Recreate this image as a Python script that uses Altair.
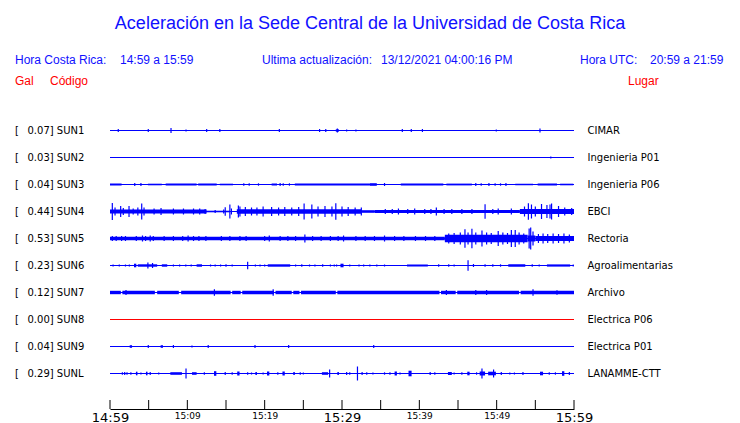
import altair as alt
import pandas as pd

# ---------------- data ----------------
stations = ["SUN1", "SUN2", "SUN3", "SUN4", "SUN5", "SUN6", "SUN7", "SUN8", "SUN9", "SUNL"]
peaks = ["0.07", "0.03", "0.04", "0.44", "0.53", "0.23", "0.12", "0.00", "0.04", "0.29"]
places = ["CIMAR", "Ingenieria P01", "Ingenieria P06", "EBCI", "Rectoria",
          "Agroalimentarias", "Archivo", "Electrica P06", "Electrica P01", "LANAMME-CTT"]
trace_colors = ["#0000ff", "#0000ff", "#0000ff", "#0000ff", "#0000ff",
                "#0000ff", "#0000ff", "#ff0000", "#0000ff", "#0000ff"]

tick_minutes = [0, 5, 10, 15, 20, 25, 30, 35, 40, 45, 50, 55, 60]
label_minutes = [0, 10, 20, 30, 40, 50, 60]
tick_labels = ["14:59", "15:09", "15:19", "15:29", "15:39", "15:49", "15:59"]

# (minute, half amplitude) spikes and (start, end, half amplitude) bursts per trace
sun1_spikes = [(1.07, 1.5), (4.95, 1.5), (7.89, 2.5), (9.83, 1), (12.5, 1.5), (14.2, 1.5),
               (21.9, 1.5), (27.1, 1.5), (27.9, 1.5), (29.4, 2), (30.6, 1), (31.8, 1),
               (37.8, 1.5), (38.96, 1.5), (40.4, 1.5), (49.95, 1), (55.6, 2)]
sun1_bands = [(29.2, 29.6, 1.2)]

sun2_spikes = [(57.0, 1)]
sun2_bands = []

sun3_spikes = [(3.2, 1.5), (4.0, 1.5), (17.3, 1.2), (18.0, 1.2), (19.2, 1.2), (22.0, 1.5),
               (22.4, 1.2), (23.2, 1.2), (35.5, 1.5), (47.3, 1.5), (48.0, 1.2), (49.0, 1.5),
               (49.8, 1.2), (50.5, 1.2), (51.2, 1.5)]
sun3_bands = [(0, 1.5, 1.0), (4.9, 6.7, 0.8), (7.2, 11.2, 1.0), (11.4, 13.8, 1.0),
              (14.2, 15.9, 0.8), (20.9, 21.6, 1.0), (23.9, 33.6, 1.0), (33.6, 34.5, 1.3),
              (37.6, 43.1, 1.0), (43.5, 46.8, 0.9), (52.4, 54.7, 0.8), (55.3, 57.8, 1.0),
              (58.2, 59.9, 0.8)]

sun4_spikes = [(0.3, 8.5), (0.65, 4), (1.38, 5.5), (1.72, 3.5), (2.46, 5.5), (3.0, 3), (3.6, 4),
               (4.1, 8), (4.4, 4), (5.7, 3), (6.6, 3.5), (8.2, 3), (9.5, 3), (10.8, 3), (11.6, 3),
               (12.3, 2.5), (13.6, 1.5), (14.7, 2), (14.9, 4.3), (15.5, 7), (15.7, 3), (16.6, 6),
               (16.8, 5), (17.5, 4.5), (18.3, 4), (19.0, 4), (19.8, 5), (20.9, 4.5), (21.8, 4),
               (22.6, 4.5), (23.5, 4), (24.4, 4.5), (25.1, 8), (26.1, 7), (26.9, 5), (27.8, 5.5),
               (28.7, 5), (29.2, 8.3), (30.0, 5), (30.8, 4.5), (31.7, 4), (32.5, 4), (35.6, 2.5),
               (36.5, 2.5), (37.3, 3), (38.5, 2.5), (39.4, 3), (40.7, 2.5), (41.5, 2.5), (42.2, 4),
               (43.2, 2.5), (44.2, 2.5), (45.5, 2.5), (46.8, 2.5), (48.5, 7.3), (49.5, 2.5),
               (50.2, 3), (51.9, 3), (53.6, 5), (54.1, 8.3), (54.5, 7), (55.0, 5), (55.8, 7.5),
               (56.5, 6.5), (56.9, 7), (57.1, 8), (58.0, 5.5), (58.8, 4), (59.7, 3.5)]
sun4_bands = [(0, 12.5, 2.0), (12.5, 15.5, 0.8), (16.4, 32.5, 2.3), (32.5, 34.2, 1.3),
              (34.2, 53.0, 1.6), (53.0, 60, 2.6)]

sun5_spikes = [(0.3, 2.5), (0.8, 2.5), (1.5, 2.5), (2.0, 2.5), (3.4, 2.5), (4.2, 3), (4.6, 2.5),
               (5.2, 3), (5.6, 2.5), (7.0, 2.5), (8.2, 2.5), (9.4, 2.5), (10.1, 3), (10.8, 2.5),
               (11.5, 2.5), (12.4, 2.5), (14.4, 2.5), (15.5, 2.5), (16.8, 2.5), (17.6, 2.5),
               (20.0, 2.5), (20.6, 3), (22.0, 2.5), (23.0, 2.5), (24.0, 2.5), (25.2, 4), (26.2, 2.5),
               (27.3, 2.5), (28.5, 2.5), (29.5, 2.5), (30.2, 3), (31.8, 2.5), (33.0, 2.5),
               (34.2, 2.5), (35.5, 3), (36.8, 2.5), (38.0, 2.5), (39.5, 2.5), (40.8, 2.5),
               (42.0, 2.5), (43.8, 5), (44.5, 5.5), (45.3, 6), (45.9, 9.3), (46.3, 6), (46.8, 9.7),
               (47.3, 6), (48.1, 8), (48.7, 6), (49.3, 5.5), (50.2, 7.5), (50.8, 6), (51.4, 5.5),
               (51.9, 8.5), (52.4, 8.5), (52.9, 6), (53.5, 5), (54.2, 10), (54.4, 11), (54.7, 7),
               (55.4, 4.5), (56.0, 5), (56.6, 4.5), (57.3, 5), (58.0, 4.5), (58.7, 5), (59.4, 4)]
sun5_bands = [(0, 43.3, 1.7), (43.3, 54.0, 3.8), (54.0, 55.0, 3.0), (55.0, 60, 2.5)]

sun6_spikes = [(0.4, 1), (1.2, 1), (2.0, 1), (2.5, 1), (4.9, 3), (5.5, 2.5), (8.2, 1), (9.0, 1),
               (9.8, 1), (10.5, 1), (13.0, 1), (13.6, 1), (14.3, 1), (15.0, 1.2), (15.8, 1),
               (17.8, 3.7), (18.8, 1), (19.4, 1), (20.0, 1), (24.0, 1), (24.8, 1.2), (25.8, 1),
               (26.5, 1), (27.5, 1.2), (28.5, 1), (29.0, 1), (29.3, 1), (31.0, 1), (32.2, 1),
               (32.8, 1), (33.6, 1), (34.5, 1), (35.5, 1), (42.5, 1.2), (43.8, 1.2), (44.5, 1),
               (46.3, 5.3), (47.0, 1.5), (48.5, 1.2), (49.5, 1.2), (50.5, 1.2), (54.6, 1.2),
               (55.5, 1), (59.9, 1)]
sun6_bands = [(3.1, 3.4, 1.8), (3.6, 6.1, 1.2), (6.7, 7.4, 1.2), (11.2, 11.9, 1.2),
              (20.4, 23.3, 1.2), (29.8, 30.2, 1.8), (38.4, 41.1, 1.0), (51.5, 53.7, 1.2),
              (56.5, 59.5, 1.1)]

sun7_spikes = [(2.07, 2.5), (13.5, 3.3), (21.1, 3.3), (43.5, 2.5), (47.3, 2.5), (48.7, 2.5),
               (54.7, 3.3), (57.8, 2.2)]
sun7_bands = [(0, 1.4, 1.7), (1.6, 5.8, 1.7), (6.1, 8.9, 1.7), (9.2, 15.6, 1.7), (15.8, 16.9, 1.7),
              (17.1, 21.2, 1.7), (21.4, 23.5, 1.7), (23.7, 24.5, 1.7), (24.7, 29.2, 1.7),
              (29.4, 42.6, 1.7), (42.8, 44.7, 1.7), (44.9, 52.9, 1.7), (53.1, 60, 1.7)]

sun8_spikes = []
sun8_bands = []

sun9_spikes = [(4.95, 1.5), (8.2, 1.5), (10.6, 1), (12.7, 1.5), (18.75, 1.5), (23.1, 1.5), (34.1, 1.5)]
sun9_bands = [(2.55, 2.85, 1.3), (6.55, 6.85, 1.3)]

sunl_spikes = [(1.6, 1.2), (1.9, 1.5), (2.2, 1.2), (2.7, 1.2), (4.0, 1), (5.2, 1.5), (6.3, 1),
               (9.83, 5), (12.2, 1.2), (14.9, 1.5), (15.8, 1.2), (17.8, 1.2), (18.3, 1), (19.8, 1),
               (21.7, 1.2), (24.6, 1.2), (25.0, 1), (28.4, 4), (30.6, 1.5), (31.0, 1.2), (32.0, 7),
               (32.6, 1.5), (33.2, 1.2), (34.0, 1), (35.5, 1.2), (36.2, 1.2), (37.5, 1), (41.4, 1.5),
               (42.0, 1.2), (44.5, 1), (45.5, 1.2), (47.4, 1.2), (48.1, 5), (49.6, 4), (50.6, 1.5),
               (51.7, 1), (52.3, 1), (53.4, 1.5), (56.8, 1.2), (57.6, 1.2), (59.4, 1.5)]
sunl_bands = [(3.35, 3.55, 1.8), (4.65, 4.85, 1.8), (7.8, 9.3, 1.3), (10.6, 11.2, 1.3),
              (13.45, 13.75, 2.3), (16.45, 16.75, 2.0), (18.8, 19.0, 1.5), (20.3, 20.6, 2.0),
              (22.3, 22.6, 2.0), (23.7, 23.9, 1.5), (27.4, 28.2, 1.3), (29.4, 29.6, 1.5),
              (36.8, 37.1, 2.0), (38.6, 39.0, 2.8), (43.7, 44.2, 1.5), (46.2, 46.5, 1.8),
              (47.8, 48.5, 2.0), (48.9, 49.9, 1.8), (55.6, 56.0, 1.8), (58.45, 58.75, 2.3)]

all_spikes = [sun1_spikes, sun2_spikes, sun3_spikes, sun4_spikes, sun5_spikes,
              sun6_spikes, sun7_spikes, sun8_spikes, sun9_spikes, sunl_spikes]
all_bands = [sun1_bands, sun2_bands, sun3_bands, sun4_bands, sun5_bands,
             sun6_bands, sun7_bands, sun8_bands, sun9_bands, sunl_bands]

# ---------------- tables ----------------
base_df = pd.DataFrame({"track": list(range(10)), "start": 0, "end": 60,
                        "station": stations, "peak": peaks, "place": places,
                        "color": trace_colors})
base_df["left"] = base_df["peak"] + "] " + base_df["station"]

spk_rows = []
for i, lst in enumerate(all_spikes):
    for m, a in lst:
        spk_rows.append({"track": i, "minute": m, "half": a})
spikes_df = pd.DataFrame(spk_rows)

band_rows = []
for i, lst in enumerate(all_bands):
    for s, e, a in lst:
        band_rows.append({"track": i, "start": s, "end": e, "half": a})
bands_df = pd.DataFrame(band_rows)

ticks_df = pd.DataFrame({"minute": tick_minutes})

# ---------------- scales ----------------
BLUE = "#0000ff"
TXT_BLUE = "#1010ff"
RED = "#ff0000"
xscale = alt.Scale(domain=[0, 60], range=[102, 566], nice=False, zero=False)
yscale = alt.Scale(domain=[0, 243], range=[122.5, 365.5], nice=False, zero=False)

label_expr = "[" + ",".join("'" + t + "'" for t in tick_labels) + "][datum.value / 10]"
xaxis = alt.Axis(values=label_minutes, labelExpr=label_expr, ticks=False, grid=False,
                 title=None, domainColor="black", domainWidth=1, labelColor="black",
                 labelFont="DejaVu Sans", labelPadding=2, labelFlush=False, labelOverlap=False,
                 labelFontWeight="normal",
                 labelFontSize={"condition": {"test": "datum.value % 30 === 0", "value": 13},
                                "value": 9})


def X(field):
    return alt.X(field, type="quantitative", scale=xscale, axis=xaxis)


def X2(field):
    return alt.X2(field)


# baseline of each trace
baselines = alt.Chart(base_df).transform_calculate(
    yc="datum.track * 27"
).mark_rule(strokeWidth=1).encode(
    x=X("start"), x2=X2("end"),
    y=alt.Y("yc:Q", scale=yscale, axis=None),
    color=alt.Color("color:N", scale=None),
)

bands = alt.Chart(bands_df).transform_calculate(
    y1="datum.track * 27 - datum.half", y2="datum.track * 27 + datum.half"
).mark_rect(color=BLUE).encode(
    x=X("start"), x2=X2("end"),
    y=alt.Y("y1:Q", scale=yscale, axis=None), y2="y2:Q",
)

spikes = alt.Chart(spikes_df).transform_calculate(
    y1="datum.track * 27 - datum.half", y2="datum.track * 27 + datum.half"
).mark_rule(color=BLUE, strokeWidth=1.2).encode(
    x=X("minute"),
    y=alt.Y("y1:Q", scale=yscale, axis=None), y2="y2:Q",
)

ticks = alt.Chart(ticks_df).mark_rule(color="black", strokeWidth=1).encode(
    x=X("minute"), y=alt.value(392), y2=alt.value(401)
)

left_bracket = alt.Chart(base_df).transform_calculate(
    yc="datum.track * 27", br="'['"
).mark_text(align="left", baseline="middle", font="DejaVu Sans", fontSize=10, color="black").encode(
    x=alt.value(7), y=alt.Y("yc:Q", scale=yscale, axis=None), text="br:N"
)
left_text = alt.Chart(base_df).transform_calculate(
    yc="datum.track * 27"
).mark_text(align="left", baseline="middle", font="DejaVu Sans", fontSize=10, color="black").encode(
    x=alt.value(19.5), y=alt.Y("yc:Q", scale=yscale, axis=None), text="left:N"
)
right_text = alt.Chart(base_df).transform_calculate(
    yc="datum.track * 27"
).mark_text(align="left", baseline="middle", font="DejaVu Sans", fontSize=10, color="black").encode(
    x=alt.value(579.5), y=alt.Y("yc:Q", scale=yscale, axis=None), text="place:N"
)


def label(txt, x, y, size, color, align="left"):
    return alt.Chart(pd.DataFrame({"t": [txt]})).mark_text(
        align=align, baseline="middle", font="Liberation Sans", fontSize=size, color=color
    ).encode(x=alt.value(x), y=alt.value(y), text="t:N")


texts = [
    label("Aceleración en la Sede Central de la Universidad de Costa Rica", 362, 16, 18, TXT_BLUE, "center"),
    label("Hora Costa Rica:", 7, 52, 12, TXT_BLUE),
    label("14:59 a 15:59", 112, 52, 12, TXT_BLUE),
    label("Ultima actualización:", 254, 52, 12, TXT_BLUE),
    label("13/12/2021 04:00:16 PM", 373, 52, 12, TXT_BLUE),
    label("Hora UTC:", 572, 52, 12, TXT_BLUE),
    label("20:59 a 21:59", 642, 52, 12, TXT_BLUE),
    label("Gal", 7, 73, 12, RED),
    label("Código", 42, 73, 12, RED),
    label("Lugar", 620, 73, 12, RED),
]

chart = alt.layer(
    baselines, bands, spikes, ticks, left_bracket, left_text, right_text, *texts
).properties(
    width=724, height=401, autosize="none", background="white",
    padding={"left": 0, "top": 0, "right": 0, "bottom": 14},
).configure_view(stroke=None)

chart.save("out.html", embed_options={"renderer": "svg", "actions": False})
